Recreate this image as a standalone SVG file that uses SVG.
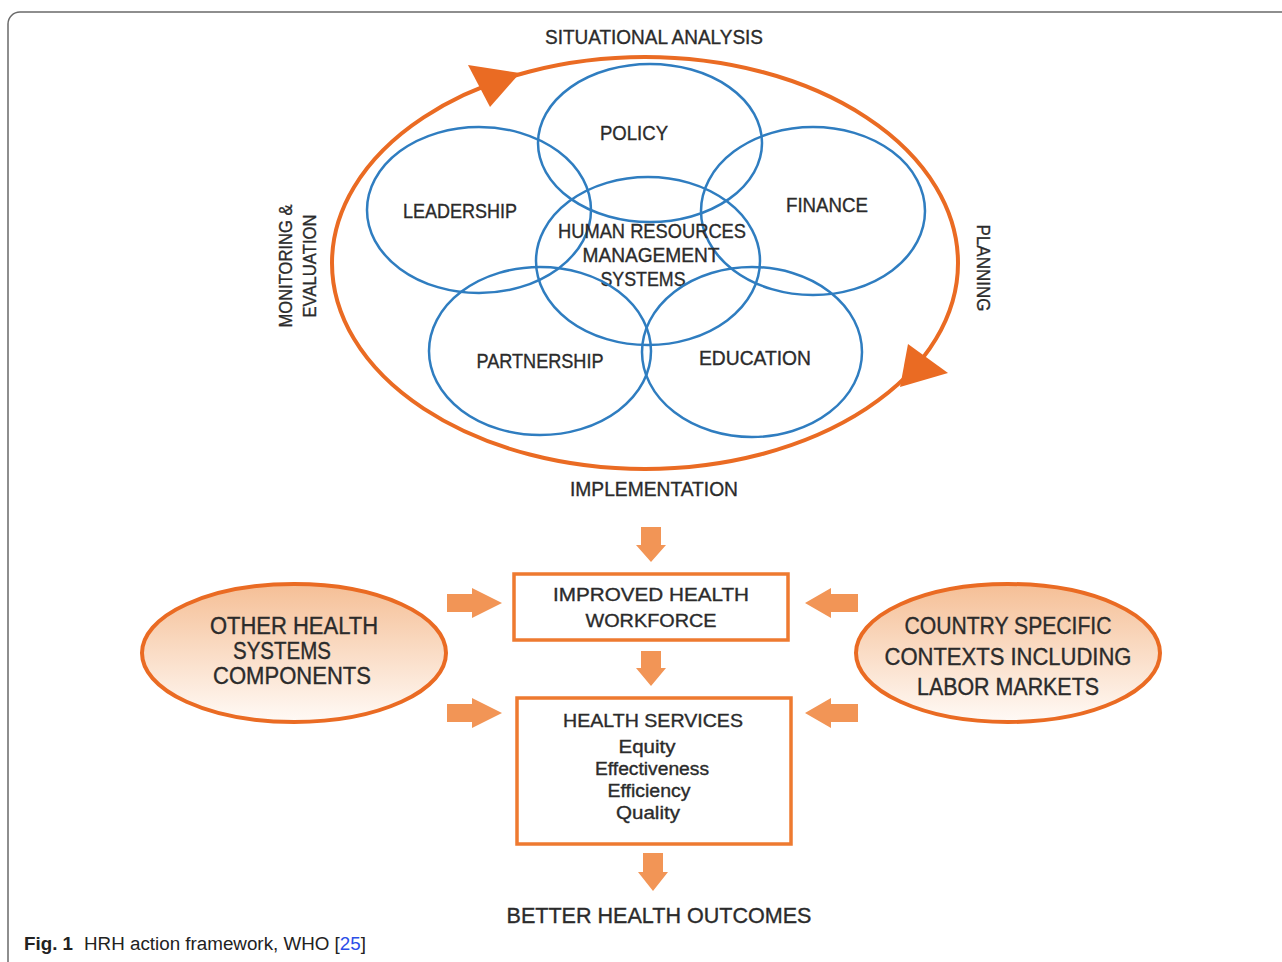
<svg xmlns="http://www.w3.org/2000/svg" width="1282" height="962" viewBox="0 0 1282 962">
<style>
.t{font-family:"Liberation Sans",Arial,sans-serif;fill:#2b2b2b;stroke:#2b2b2b;stroke-width:0.35;text-anchor:middle}
.c{fill:none;stroke:#2f7dc0;stroke-width:2.5}
.box{fill:#fff;stroke:#ee7a30;stroke-width:3.5}
.blk{fill:#f29556}
.ov{fill:url(#g);stroke:#ea6b23;stroke-width:4}
.cap{font-family:"Liberation Sans",Arial,sans-serif;font-size:18px;fill:#222}
</style>
<defs>
<linearGradient id="g" x1="0" y1="0" x2="0" y2="1">
<stop offset="0" stop-color="#f5bf96"/>
<stop offset="1" stop-color="#fffaf6"/>
</linearGradient>
</defs>
<rect x="8" y="12" width="1300" height="970" rx="12" fill="#fff" stroke="#6a6a6a" stroke-width="1.5"/>

<g id="cycle">
<ellipse cx="645" cy="263" rx="313" ry="206" fill="none" stroke="#ea6b23" stroke-width="4"/>
<polygon points="468,65 520,73 490,107" fill="#ea6b23"/>
<polygon points="908,344 948,373 900,387" fill="#ea6b23"/>
<text class="t" x="654" y="44" font-size="20" textLength="218" lengthAdjust="spacingAndGlyphs">SITUATIONAL ANALYSIS</text>
<text class="t" x="654" y="496" font-size="20" textLength="168" lengthAdjust="spacingAndGlyphs">IMPLEMENTATION</text>
<text class="t" font-size="19" transform="translate(292,266) rotate(-90)" textLength="123" lengthAdjust="spacingAndGlyphs">MONITORING &amp;</text>
<text class="t" font-size="19" transform="translate(316,266) rotate(-90)" textLength="103" lengthAdjust="spacingAndGlyphs">EVALUATION</text>
<text class="t" font-size="19" transform="translate(977,268) rotate(90)" textLength="87" lengthAdjust="spacingAndGlyphs">PLANNING</text>
</g>

<g id="policy">
<ellipse class="c" cx="650" cy="143" rx="112" ry="79"/>
<text class="t" x="634" y="140" font-size="20" textLength="68" lengthAdjust="spacingAndGlyphs">POLICY</text>
</g>
<g id="leadership">
<ellipse class="c" cx="479" cy="210" rx="112" ry="83"/>
<text class="t" x="460" y="218" font-size="20" textLength="114" lengthAdjust="spacingAndGlyphs">LEADERSHIP</text>
</g>
<g id="finance">
<ellipse class="c" cx="813" cy="211" rx="112" ry="84"/>
<text class="t" x="827" y="212" font-size="20" textLength="82" lengthAdjust="spacingAndGlyphs">FINANCE</text>
</g>
<g id="hrm">
<ellipse class="c" cx="648" cy="261" rx="112" ry="84"/>
<text class="t" x="652" y="238" font-size="20" textLength="188" lengthAdjust="spacingAndGlyphs">HUMAN RESOURCES</text>
<text class="t" x="651" y="262" font-size="20" textLength="137" lengthAdjust="spacingAndGlyphs">MANAGEMENT</text>
<text class="t" x="643" y="286" font-size="20" textLength="85" lengthAdjust="spacingAndGlyphs">SYSTEMS</text>
</g>
<g id="partnership">
<ellipse class="c" cx="540" cy="351" rx="111" ry="84"/>
<text class="t" x="540" y="368" font-size="20" textLength="127" lengthAdjust="spacingAndGlyphs">PARTNERSHIP</text>
</g>
<g id="education">
<ellipse class="c" cx="752" cy="352" rx="110" ry="85"/>
<text class="t" x="755" y="365" font-size="20" textLength="112" lengthAdjust="spacingAndGlyphs">EDUCATION</text>
</g>

<g id="connectors">
<path class="blk" d="M641,527 H661 V545 H666 L651,562 L636,545 H641 Z"/>
<path class="blk" d="M641,651 H661 V668 H666 L651,686 L636,668 H641 Z"/>
<path class="blk" d="M643,853 H663 V872 H668 L653,891 L638,872 H643 Z"/>
<path class="blk" d="M447,594 H472 V588 L502,603 L472,618 V612 H447 Z"/>
<path class="blk" d="M447,704 H472 V698 L502,713 L472,728 V722 H447 Z"/>
<path class="blk" d="M858,594 H831 V588 L805,603 L831,618 V612 H858 Z"/>
<path class="blk" d="M858,704 H831 V698 L805,713 L831,728 V722 H858 Z"/>
</g>

<g id="workforce">
<rect class="box" x="514" y="574" width="274" height="66"/>
<text class="t" x="651" y="601" font-size="19" textLength="196" lengthAdjust="spacingAndGlyphs">IMPROVED HEALTH</text>
<text class="t" x="651" y="627" font-size="19" textLength="131" lengthAdjust="spacingAndGlyphs">WORKFORCE</text>
</g>
<g id="services">
<rect class="box" x="517" y="698" width="274" height="146" stroke-width="4"/>
<text class="t" x="653" y="727" font-size="19" textLength="180" lengthAdjust="spacingAndGlyphs">HEALTH SERVICES</text>
<text class="t" x="647" y="753" font-size="18" textLength="57" lengthAdjust="spacingAndGlyphs">Equity</text>
<text class="t" x="652" y="775" font-size="18" textLength="114" lengthAdjust="spacingAndGlyphs">Effectiveness</text>
<text class="t" x="649" y="797" font-size="18" textLength="83" lengthAdjust="spacingAndGlyphs">Efficiency</text>
<text class="t" x="648" y="819" font-size="18" textLength="64" lengthAdjust="spacingAndGlyphs">Quality</text>
</g>
<g id="other">
<ellipse class="ov" cx="294" cy="653" rx="152" ry="69"/>
<text class="t" x="294" y="634" font-size="23" textLength="168" lengthAdjust="spacingAndGlyphs">OTHER HEALTH</text>
<text class="t" x="282" y="659" font-size="23" textLength="98" lengthAdjust="spacingAndGlyphs">SYSTEMS</text>
<text class="t" x="292" y="684" font-size="23" textLength="158" lengthAdjust="spacingAndGlyphs">COMPONENTS</text>
</g>
<g id="country">
<ellipse class="ov" cx="1008" cy="653" rx="152" ry="69"/>
<text class="t" x="1008" y="634" font-size="23" textLength="207" lengthAdjust="spacingAndGlyphs">COUNTRY SPECIFIC</text>
<text class="t" x="1008" y="665" font-size="23" textLength="247" lengthAdjust="spacingAndGlyphs">CONTEXTS INCLUDING</text>
<text class="t" x="1008" y="695" font-size="23" textLength="182" lengthAdjust="spacingAndGlyphs">LABOR MARKETS</text>
</g>
<g id="outcomes">
<text class="t" x="659" y="923" font-size="22" textLength="305" lengthAdjust="spacingAndGlyphs">BETTER HEALTH OUTCOMES</text>
</g>
<g id="caption">
<text class="cap" x="24" y="950" font-weight="bold" textLength="49" lengthAdjust="spacingAndGlyphs">Fig. 1</text>
<text class="cap" x="84" y="950" textLength="282" lengthAdjust="spacingAndGlyphs">HRH action framework, WHO [<tspan fill="#2b4ee8">25</tspan>]</text>
</g>
</svg>
